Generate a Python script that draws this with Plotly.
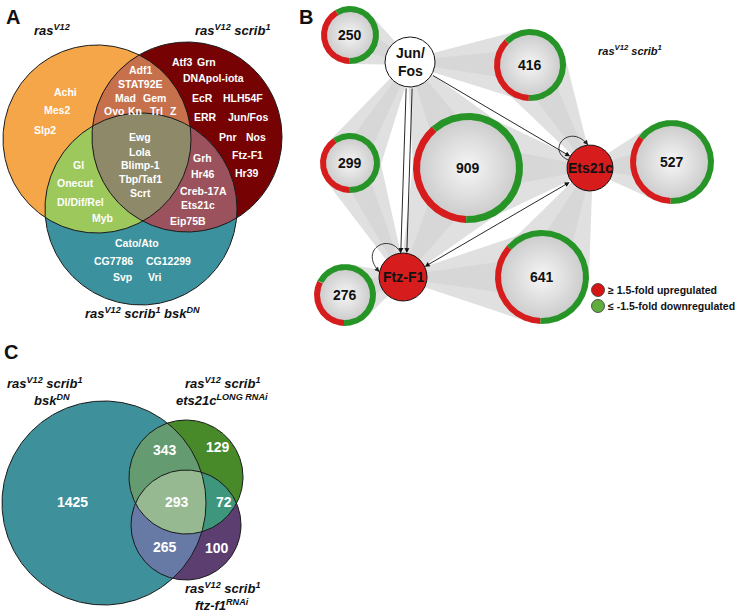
import numpy as np
import plotly.graph_objects as go

W, H = 739, 614
FONT = "Liberation Sans, Arial, sans-serif"

# ----------------------------- DATA -----------------------------
# Panel A: transcription factors per Venn region
venn_a_names = ["ras<sup>V12</sup>", "ras<sup>V12</sup> scrib<sup>1</sup>",
                "ras<sup>V12</sup> scrib<sup>1</sup> bsk<sup>DN</sup>"]
tf_ras_only = ["Achi", "Mes2", "Slp2"]
tf_scrib_only = ["Atf3", "Grn", "DNApol-iota", "EcR", "HLH54F", "ERR", "Jun/Fos",
                 "Pnr", "Nos", "Ftz-F1", "Hr39"]
tf_ras_scrib = ["Adf1", "STAT92E", "Mad", "Gem", "Ovo", "Kn", "Trl", "Z"]
tf_all_three = ["Ewg", "Lola", "Blimp-1", "Tbp/Taf1", "Scrt"]
tf_ras_bsk = ["Gl", "Onecut", "Dl/Dif/Rel", "Myb"]
tf_scrib_bsk = ["Grh", "Hr46", "Creb-17A", "Ets21c", "Eip75B"]
tf_bsk_only = ["Cato/Ato", "CG7786", "CG12299", "Svp", "Vri"]

# Panel B: regulatory network
hub_names = ["Jun/Fos", "Ets21c", "Ftz-F1"]
hub_upregulated = [False, True, True]
target_counts = [250, 416, 299, 909, 527, 641, 276]
target_regulators = [["Jun/Fos"], ["Jun/Fos", "Ets21c"], ["Jun/Fos", "Ftz-F1"],
                     ["Jun/Fos", "Ets21c", "Ftz-F1"], ["Ets21c"],
                     ["Ets21c", "Ftz-F1"], ["Ftz-F1"]]
target_up_fraction = [0.41, 0.37, 0.40, 0.38, 0.35, 0.36, 0.32]
hub_edges = [("Jun/Fos", "Ets21c", False), ("Jun/Fos", "Ftz-F1", False),
             ("Jun/Fos", "Ftz-F1", False), ("Ets21c", "Ftz-F1", True)]
self_loops = ["Ets21c", "Ftz-F1"]
legend_labels = ["\u2265 1.5-fold upregulated", "\u2264 -1.5-fold downregulated"]

# Panel C: overlap counts
venn_c_names = [["ras<sup>V12</sup> scrib<sup>1</sup>", "bsk<sup>DN</sup>"],
                ["ras<sup>V12</sup> scrib<sup>1</sup>", "ets21c<sup>LONG RNAi</sup>"],
                ["ras<sup>V12</sup> scrib<sup>1</sup>", "ftz-f1<sup>RNAi</sup>"]]
c_regions = ["bsk", "bsk&ets", "ets", "all", "ets&ftz", "bsk&ftz", "ftz"]
c_counts = [1425, 343, 129, 293, 72, 265, 100]

# ----------------------------- LAYOUT / STYLE -----------------------------
A_CIRC = [(97, 139, 94), (187, 137, 95), (141, 209, 96)]
A_COL = {"0": "rgb(245,166,72)", "1": "rgb(118,2,4)", "2": "rgb(60,145,158)",
         "01": "rgb(199,113,76)", "02": "rgb(156,200,92)", "12": "rgb(156,82,92)",
         "012": "rgb(142,137,104)"}
A_POS = {
    "Achi": (65, 92), "Mes2": (57, 110), "Slp2": (45, 130),
    "Atf3": (182, 62), "Grn": (206, 62), "DNApol-iota": (213, 78),
    "EcR": (202, 98), "HLH54F": (243, 98), "ERR": (205, 117), "Jun/Fos": (248, 117),
    "Pnr": (228, 137), "Nos": (256, 137), "Ftz-F1": (247, 155), "Hr39": (247, 173),
    "Adf1": (140, 70), "STAT92E": (140, 84), "Mad": (125, 98), "Gem": (154, 98),
    "Ovo": (114, 111), "Kn": (135, 111), "Trl": (156, 111), "Z": (173, 111),
    "Ewg": (140, 137), "Lola": (140, 152), "Blimp-1": (140, 165),
    "Tbp/Taf1": (140, 179), "Scrt": (140, 193),
    "Gl": (78, 165), "Onecut": (75, 183), "Dl/Dif/Rel": (80, 202), "Myb": (102, 218),
    "Grh": (202, 158), "Hr46": (203, 174), "Creb-17A": (203, 191),
    "Ets21c": (198, 205), "Eip75B": (188, 221),
    "Cato/Ato": (137, 243), "CG7786": (113, 261), "CG12299": (168, 261),
    "Svp": (122, 277), "Vri": (155, 277),
}
A_NAME_POS = [(52, 30), (232, 30), (142, 313)]

HUB_POS = {"Jun/Fos": (410, 62, 25), "Ets21c": (590, 168, 23), "Ftz-F1": (403, 277, 24)}
TARGET_POS = [(350, 35, 29), (530, 65, 36), (350, 163, 30), (468, 168, 55),
              (672, 162, 42), (542, 277, 47), (345, 295, 31)]
RED = "rgb(214,28,28)"
GREEN = "rgb(38,148,38)"

C_CIRC = [(104, 503, 102), (186, 477, 57), (186, 525, 55)]
C_COL = {"0": "rgb(62,145,155)", "1": "rgb(72,138,42)", "2": "rgb(92,62,112)",
         "01": "rgb(100,155,112)", "02": "rgb(102,122,165)", "12": "rgb(62,150,125)",
         "012": "rgb(150,185,146)"}
C_NUM_POS = [(72, 502), (165, 450), (218, 447), (177, 502), (224, 502), (165, 547), (217, 548)]
C_NAME_POS = [((44, 383), (52, 400)), ((222, 383), (222, 400)), ((222, 588), (222, 605))]

fig = go.Figure()
ann = []


def arc(cx, cy, r, a0=0.0, a1=360.0, n=240):
    t = np.radians(np.linspace(a0, a1, n))
    return cx + r * np.cos(t), cy - r * np.sin(t)


def poly(x, y, color, **kw):
    fig.add_trace(go.Scatter(x=list(x), y=list(y), mode="lines", fill="toself",
                             fillcolor=color, line=dict(width=0, color=color),
                             hoverinfo="skip", **kw))


def outline(cx, cy, r, color="#111", width=1):
    x, y = arc(cx, cy, r, n=360)
    fig.add_trace(go.Scatter(x=x, y=y, mode="lines", line=dict(color=color, width=width),
                             hoverinfo="skip"))


def intersection(circles, n=1440):
    pts = []
    for i, (cx, cy, r) in enumerate(circles):
        x, y = arc(cx, cy, r, 0, 360, n)
        ok = np.ones(n, bool)
        for j, (ox, oy, orr) in enumerate(circles):
            if j != i:
                ok &= (x - ox) ** 2 + (y - oy) ** 2 <= orr ** 2 + 1e-6
        pts += list(zip(x[ok], y[ok]))
    pts = np.array(pts)
    c = pts.mean(axis=0)
    ang = np.arctan2(pts[:, 1] - c[1], pts[:, 0] - c[0])
    pts = pts[np.argsort(ang)]
    return pts[:, 0], pts[:, 1]


def venn(circles, cols):
    for i, (cx, cy, r) in enumerate(circles):
        poly(*arc(cx, cy, r), cols[str(i)])
    for key in ["01", "02", "12", "012"]:
        sub = [circles[int(k)] for k in key]
        poly(*intersection(sub), cols[key])
    for cx, cy, r in circles:
        outline(cx, cy, r, "#1a1a1a", 1)


def text(x, y, s, size=11, color="white", bold=True, italic=False, **kw):
    t = s
    if italic:
        t = "<i>" + t + "</i>"
    if bold:
        t = "<b>" + t + "</b>"
    ann.append(dict(x=x, y=y, xref="x", yref="y", text=t, showarrow=False,
                    font=dict(family=FONT, size=size, color=color), **kw))


# ----------------------------- PANEL A -----------------------------
venn(A_CIRC, A_COL)
for group in [tf_ras_only, tf_scrib_only, tf_ras_scrib, tf_all_three, tf_ras_bsk,
              tf_scrib_bsk, tf_bsk_only]:
    for name in group:
        x, y = A_POS[name]
        text(x, y, name, 10.5)
for name, (x, y) in zip(venn_a_names, A_NAME_POS):
    text(x, y, name, 13, color="#111", italic=True)

# ----------------------------- PANEL B -----------------------------
def cone(P, C, R, h=3.0):
    P = np.array(P, float)
    C = np.array(C, float)
    d = np.linalg.norm(P - C)
    u = (P - C) / d
    a = np.arccos(min(R / d, 1.0))

    def rot(v, t):
        return np.array([v[0] * np.cos(t) - v[1] * np.sin(t), v[0] * np.sin(t) + v[1] * np.cos(t)])
    n = rot(u, np.pi / 2)
    T1 = C + R * rot(u, a)
    T2 = C + R * rot(u, -a)
    pts = [P + h * n, T1, C, T2, P - h * n]
    return [p[0] for p in pts], [p[1] for p in pts]


for (tx, ty, tr), regs in zip(TARGET_POS, target_regulators):
    for hname in regs:
        hx, hy, hr = HUB_POS[hname]
        poly(*cone((hx, hy), (tx, ty), tr), "rgba(140,140,140,0.27)")
        poly(*cone((hx, hy), (tx, ty), tr * 0.45, 1.5), "rgba(120,120,120,0.08)")

for (tx, ty, tr), cnt, f in zip(TARGET_POS, target_counts, target_up_fraction):
    thick = 7 if tr > 50 else 6
    x, y = arc(tx, ty, tr - thick + 0.5)
    fig.add_trace(go.Scatter(x=x, y=y, mode="lines", fill="toself",
                             fillgradient=dict(type="radial",
                                               colorscale=[[0, "#f6f6f6"], [1, "#cdcdcd"]]),
                             line=dict(width=0), hoverinfo="skip"))
    end = 268.0
    for a0, a1, col in [(end - f * 360, end, RED), (end, end + (1 - f) * 360, GREEN)]:
        xo, yo = arc(tx, ty, tr, a0, a1, 200)
        xi, yi = arc(tx, ty, tr - thick, a1, a0, 200)
        poly(np.concatenate([xo, xi]), np.concatenate([yo, yi]), col)
    text(tx, ty, str(cnt), 14, color="#111")


def edge_pts(a, b, off=0.0):
    ax_, ay_, ar = HUB_POS[a]
    bx, by, br = HUB_POS[b]
    v = np.array([bx - ax_, by - ay_], float)
    d = np.linalg.norm(v)
    u = v / d
    n = np.array([-u[1], u[0]])
    s = np.array([ax_, ay_]) + u * ar + n * off
    e = np.array([bx, by]) - u * br + n * off
    return s, e


for hname, up in zip(hub_names, hub_upregulated):
    hx, hy, hr = HUB_POS[hname]
    poly(*arc(hx, hy, hr), RED if up else "white")
    outline(hx, hy, hr, "#111", 1)
    label = "Jun/<br>Fos" if hname == "Jun/Fos" else hname
    text(hx, hy, label, 14, color="#111")

seen = {}
for a, b, both in hub_edges:
    k = seen.get((a, b), 0)
    seen[(a, b)] = k + 1
    off = 0.0 if (a, b) != ("Jun/Fos", "Ftz-F1") else (-3.0 if k == 0 else 3.0)
    if both:
        off = -2.0
    s, e = edge_pts(a, b, off)
    ann.append(dict(x=e[0], y=e[1], ax=s[0], ay=s[1], xref="x", yref="y", axref="x",
                    ayref="y", text="", showarrow=True, arrowhead=2, arrowsize=1.1,
                    arrowwidth=0.9, arrowcolor="#111", standoff=0, startstandoff=0,
                    arrowside="end+start" if both else "end",
                    startarrowhead=2, startarrowsize=1.1))

shapes = []
LOOP = {"Ets21c": ((160, 95), (-45, -18), (-20, -46)),
        "Ftz-F1": ((95, 168), (-13, -45), (-45, -28))}
for hname in self_loops:
    hx, hy, hr = HUB_POS[hname]
    (a0, a1), c1, c2 = LOOP[hname]
    p0 = (hx + hr * np.cos(np.radians(a0)), hy - hr * np.sin(np.radians(a0)))
    p1 = (hx + hr * np.cos(np.radians(a1)), hy - hr * np.sin(np.radians(a1)))
    q1 = (hx + c1[0], hy + c1[1])
    q2 = (hx + c2[0], hy + c2[1])
    shapes.append(dict(type="path", xref="x", yref="y",
                       path=f"M {p0[0]:.1f},{p0[1]:.1f} C {q1[0]:.1f},{q1[1]:.1f} {q2[0]:.1f},{q2[1]:.1f} {p1[0]:.1f},{p1[1]:.1f}",
                       line=dict(color="#222", width=0.9)))
    dv = np.array([p1[0] - q2[0], p1[1] - q2[1]])
    dv = dv / np.linalg.norm(dv)
    ann.append(dict(x=p1[0], y=p1[1], ax=p1[0] - 5 * dv[0], ay=p1[1] - 5 * dv[1],
                    xref="x", yref="y", axref="x", ayref="y", text="", showarrow=True,
                    arrowhead=2, arrowsize=1.1, arrowwidth=0.9, arrowcolor="#222", standoff=0))

# legend
for (ly, col), lab in zip([(290, "rgb(214,20,20)"), (306, "rgb(96,172,60)")], legend_labels):
    fig.add_trace(go.Scatter(x=[598], y=[ly], mode="markers",
                             marker=dict(size=13, color=col, line=dict(color="#333", width=0.8)),
                             hoverinfo="skip"))
    text(606, ly, lab, 10.5, color="#111", xanchor="left")

text(630, 50, "ras<sup>V12</sup> scrib<sup>1</sup>", 11, color="#111", italic=True)

# ----------------------------- PANEL C -----------------------------
venn(C_CIRC, C_COL)
for (x, y), v in zip(C_NUM_POS, c_counts):
    text(x, y, str(v), 14)
for lines, pos in zip(venn_c_names, C_NAME_POS):
    for ln, (x, y) in zip(lines, pos):
        text(x, y, ln, 13, color="#111", italic=True)

# panel letters
for (x, y), L in zip([(13, 17), (306, 17), (11, 352)], ["A", "B", "C"]):
    text(x, y, L, 20, color="#111")

fig.update_layout(
    width=W, height=H, margin=dict(l=0, r=0, t=0, b=0), autosize=False,
    paper_bgcolor="white", plot_bgcolor="white", showlegend=False,
    xaxis=dict(range=[0, W], visible=False, fixedrange=True),
    yaxis=dict(range=[H, 0], visible=False, fixedrange=True),
    annotations=ann, shapes=shapes,
)
fig.write_html("out.html", post_script="document.body.style.margin='0';",
               config={"displayModeBar": False})
